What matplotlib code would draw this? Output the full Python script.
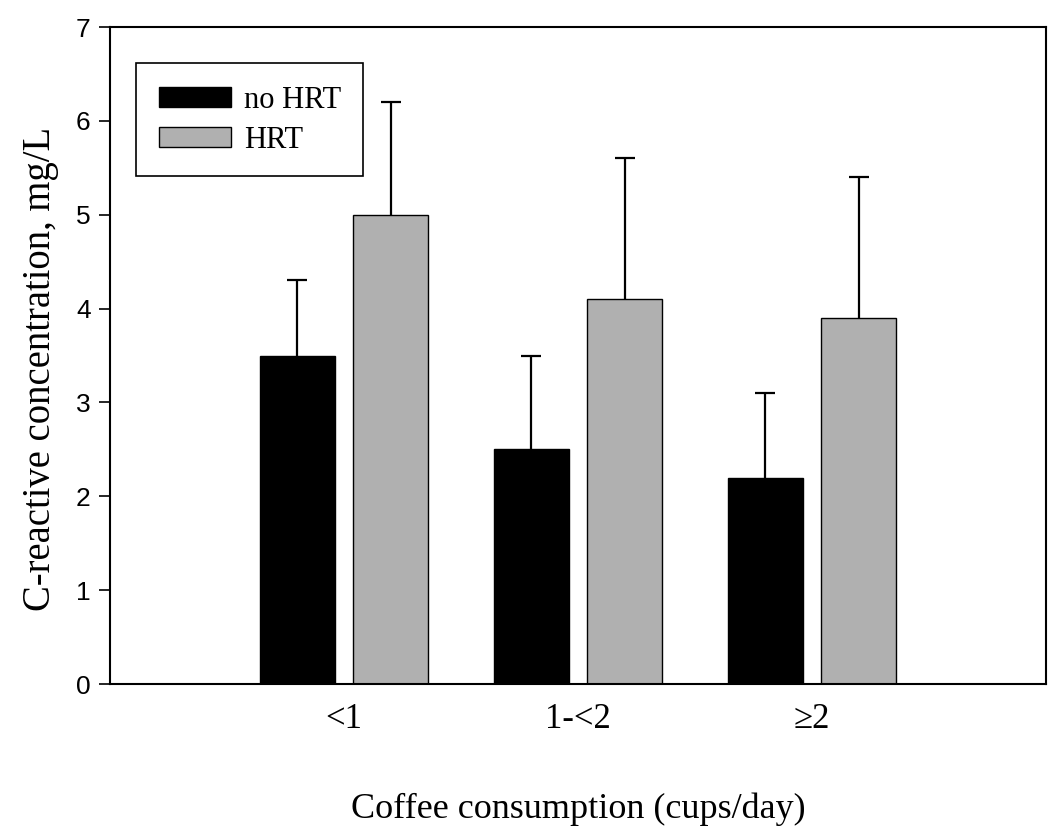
import matplotlib
matplotlib.use("Agg")
import matplotlib.pyplot as plt
from matplotlib.patches import Patch, Rectangle
import numpy as np

categories = ["<1", "1-<2", "\u22652"]
no_hrt = [3.5, 2.5, 2.2]
no_hrt_err = [0.8, 1.0, 0.9]
hrt = [5.0, 4.1, 3.9]
hrt_err = [1.2, 1.5, 1.5]
series_names = ["no HRT", "HRT"]
yticks = [0, 1, 2, 3, 4, 5, 6, 7]

serif = "Liberation Serif"
sans = "Liberation Sans"

fig = plt.figure(figsize=(10.5, 8.34), dpi=100)
ax = fig.add_axes([110/1050, 1-684/834, 936/1050, 657/834])

x = np.arange(1, len(categories) + 1)
w = 0.32
off = 0.2
ax.bar(x - off, no_hrt, w, color="black", edgecolor="black", linewidth=1, zorder=2)
ax.bar(x + off, hrt, w, color="#b0b0b0", edgecolor="black", linewidth=1, zorder=2)
for xs, vals, errs in [(x - off, no_hrt, no_hrt_err), (x + off, hrt, hrt_err)]:
    eb = ax.errorbar(xs, vals, yerr=[np.zeros(len(vals)), errs], fmt="none",
                     ecolor="black", elinewidth=1.6, capsize=7.5, capthick=1.6, zorder=1)
    caps = eb[1]
    if len(caps) == 2:
        caps[0].set_visible(False)

ax.set_xlim(0, 4)
ax.set_ylim(0, 7)
ax.set_xticks(x)
ax.set_xticklabels(categories, fontfamily=serif, fontsize=25)
ax.tick_params(axis="x", length=0, pad=14)
ax.set_yticks(yticks)
ax.set_yticklabels([str(t) for t in yticks], fontfamily=sans, fontsize=19)
ax.tick_params(axis="y", direction="out", length=8, width=1.2, pad=6)
for s in ax.spines.values():
    s.set_linewidth(1.5)

ax.set_xlabel("Coffee consumption (cups/day)", fontfamily=serif, fontsize=26, labelpad=40)
ax.set_ylabel("C-reactive concentration, mg/L", fontfamily=serif, fontsize=27.8, labelpad=12)
ax.yaxis.label.set_y(0.479)

handles = [Patch(facecolor="black", edgecolor="black", linewidth=1),
           Patch(facecolor="#b0b0b0", edgecolor="black", linewidth=1)]
leg = ax.legend(handles, series_names, loc="upper left",
                bbox_to_anchor=(26/936, (684-63)/657), borderaxespad=0,
                prop={"family": serif, "size": 22}, frameon=False,
                handlelength=2.35, handleheight=0.6,
                handletextpad=0.45, labelspacing=0.35, borderpad=0.75)
frame = Rectangle((26/936, (684-176)/657), 227/936, 113/657, transform=ax.transAxes,
                  facecolor="none", edgecolor="black", linewidth=1.2, zorder=4)
ax.add_patch(frame)
leg.set_zorder(5)

fig.savefig("out.png", dpi=100)
